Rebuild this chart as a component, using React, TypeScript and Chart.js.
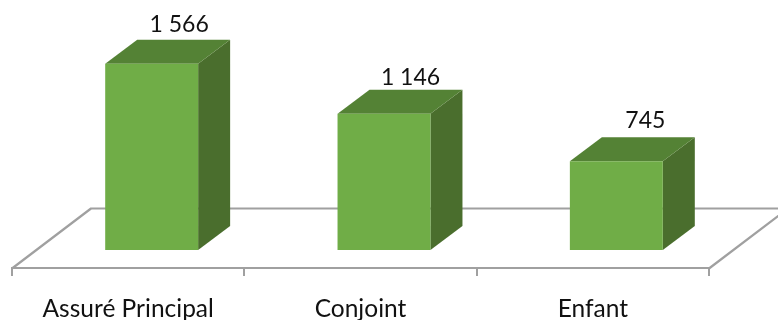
import React, { useEffect, useRef } from "react";
import { Chart, registerables } from "chart.js";

Chart.register(...registerables);

const categories = ["Assuré Principal", "Conjoint", "Enfant"];
const values = [1566, 1146, 745];
const valueLabels = ["1 566", "1 146", "745"];

const FONT = "Lato, 'Open Sans', sans-serif";
const LINE = "#A0A0A0";
const DEPTH_X = 32;
const DEPTH_Y = 24;
const SHIFT_X = 23.5;
const SHIFT_Y = 18;
const FLOOR_X = 79;
const FLOOR_Y = 60;
const LABEL_NUDGE = [[0, -1], [-1, 2], [1.5, -2.5]];

const threeD = {
  id: "threeD",
  beforeDatasetsDraw(chart: any) {
    const { ctx, chartArea: a } = chart;
    const b = a.bottom + 0.5;
    ctx.save();
    ctx.strokeStyle = LINE;
    ctx.lineWidth = 2.2;
    ctx.lineJoin = "round";
    ctx.beginPath();
    ctx.moveTo(a.left, b);
    ctx.lineTo(a.left + FLOOR_X, b - FLOOR_Y);
    ctx.lineTo(a.right + FLOOR_X, b - FLOOR_Y);
    ctx.lineTo(a.right, b);
    ctx.stroke();
    ctx.restore();
  },
  beforeDatasetDraw(chart: any) {
    const { ctx } = chart;
    ctx.save();
    ctx.translate(SHIFT_X, -SHIFT_Y);
    chart.getDatasetMeta(0).data.forEach((bar: any) => {
      const l = bar.x - bar.width / 2;
      const r = bar.x + bar.width / 2;
      const t = bar.y;
      const base = bar.base;
      ctx.fillStyle = "#4A6E2D";
      ctx.beginPath();
      ctx.moveTo(r, t);
      ctx.lineTo(r + DEPTH_X, t - DEPTH_Y);
      ctx.lineTo(r + DEPTH_X, base - DEPTH_Y);
      ctx.lineTo(r, base);
      ctx.closePath();
      ctx.fill();
      ctx.fillStyle = "#548235";
      ctx.beginPath();
      ctx.moveTo(l, t);
      ctx.lineTo(l + DEPTH_X, t - DEPTH_Y);
      ctx.lineTo(r + DEPTH_X, t - DEPTH_Y);
      ctx.lineTo(r, t);
      ctx.closePath();
      ctx.fill();
    });
  },
  afterDatasetDraw(chart: any) {
    chart.ctx.restore();
  },
  afterDatasetsDraw(chart: any) {
    const { ctx } = chart;
    ctx.save();
    ctx.fillStyle = "#111111";
    ctx.font = `23px ${FONT}`;
    ctx.textAlign = "center";
    ctx.textBaseline = "middle";
    chart.getDatasetMeta(0).data.forEach((bar: any, i: number) => {
      const n = LABEL_NUDGE[i];
      ctx.fillText(valueLabels[i], bar.x + SHIFT_X + 27.5 + n[0], bar.y - SHIFT_Y - 38 + n[1]);
    });
    ctx.restore();
  },
};

export default function App() {
  const ref = useRef<HTMLCanvasElement>(null);
  useEffect(() => {
    document.body.style.margin = "0";
    const chart = new Chart(ref.current!, {
      type: "bar",
      data: {
        labels: categories,
        datasets: [
          {
            data: values,
            backgroundColor: "#70AD47",
            borderWidth: 0,
            barPercentage: 0.4,
            categoryPercentage: 1,
          },
        ],
      },
      options: {
        responsive: false,
        animation: false,
        layout: { padding: { left: 12, right: 69, top: 30, bottom: 0 } },
        plugins: { legend: { display: false }, tooltip: { enabled: false } },
        scales: {
          y: { display: false, min: 0, max: 2000 },
          x: {
            afterFit(scale: any) {
              scale.height = 52;
            },
            grid: { drawOnChartArea: false, drawTicks: true, tickLength: 8, color: LINE, lineWidth: 2 },
            border: { display: true, color: LINE, width: 2 },
            ticks: {
              color: "#111111",
              font: { family: FONT, size: 24.5 },
              padding: 18,
              maxRotation: 0,
              autoSkip: false,
            },
          },
        },
      },
      plugins: [threeD],
    });
    return () => chart.destroy();
  }, []);
  return <canvas ref={ref} width={778} height={320} style={{ display: "block" }} />;
}
